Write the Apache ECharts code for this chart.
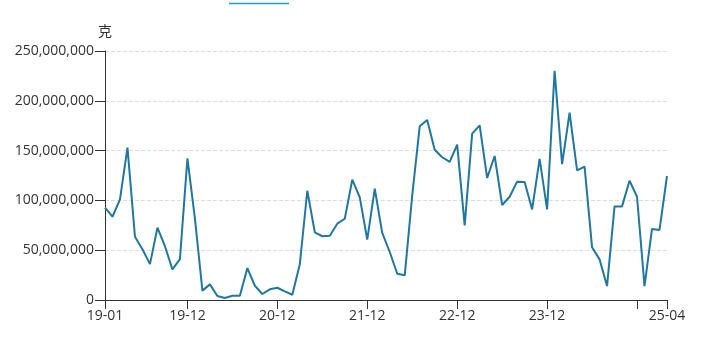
<!DOCTYPE html>
<html>
<head>
<meta charset="utf-8">
<script src="https://cdn.jsdelivr.net/npm/echarts@6/dist/echarts.min.js"></script>
<style>
html, body { margin: 0; padding: 0; background: #fff; }
#main { width: 707px; height: 353px; }
</style>
</head>
<body>
<div id="main"></div>
<script>
// 月份 19-01 .. 25-04
var months = [];
for (var y = 19; y <= 25; y++) {
    for (var m = 1; m <= 12; m++) {
        if (y == 25 && m > 4) break;
        months.push(y + '-' + (m < 10 ? '0' + m : m));
    }
}

// 重量（克）
var weights = [
    92.7e6, 83.6e6, 101e6, 153e6, 63.6e6, 51e6, 36e6, 72.6e6, 54e6, 30.8e6, 41e6, 142.3e6,
    82e6, 9.4e6, 15.7e6, 4e6, 2e6, 4.3e6, 4.3e6, 32e6, 14.3e6, 6e6, 10.7e6, 12.3e6,
    8.7e6, 5.3e6, 36e6, 109.7e6, 68e6, 64e6, 64.6e6, 76.6e6, 81.6e6, 120.8e6, 103e6, 60.6e6,
    111.8e6, 67.3e6, 48.2e6, 26.4e6, 24.8e6, 105e6, 174.4e6, 180.7e6, 150.9e6, 143.3e6, 138.6e6, 156e6,
    75e6, 167e6, 175.4e6, 122.5e6, 144.6e6, 95.4e6, 103.7e6, 118.8e6, 118.5e6, 91e6, 141.6e6, 91e6,
    230.2e6, 136.5e6, 188e6, 130.2e6, 133.9e6, 52.9e6, 40.8e6, 14e6, 94e6, 94e6, 119.8e6, 103.7e6,
    14e6, 71.3e6, 70.3e6, 124.5e6
];

var yTicks = [0, 250000000, 50000000];

var last = months.length - 1;
function showTick(i) {
    return i === 0 || i === last || i % 12 === 11;
}
function showLabel(i) {
    return i === 0 || i === last || (i % 12 === 11 && last - i > 6);
}

var chart = echarts.init(document.getElementById('main'));
chart.setOption({
    animation: false,
    textStyle: { fontFamily: 'Open Sans, Noto Sans, sans-serif' },
    grid: { left: 105, right: 40, top: 51, bottom: 53 },
    graphic: [{
        type: 'line',
        shape: { x1: 229, y1: 3.5, x2: 289, y2: 3.5 },
        style: { stroke: '#1aa3c6', lineWidth: 1.5 }
    }],
    xAxis: {
        type: 'category',
        data: months,
        boundaryGap: false,
        axisLine: { lineStyle: { color: '#333' } },
        axisTick: { interval: function (i) { return showTick(i); }, length: 9, lineStyle: { color: '#333' } },
        axisLabel: {
            interval: function (i) { return showLabel(i); },
            color: '#333', fontSize: 14, margin: 9
        },
        splitLine: { show: false }
    },
    yAxis: {
        type: 'value',
        name: '克',
        nameGap: 13,
        nameTextStyle: { color: '#333', fontSize: 14, align: 'center', fontFamily: 'Noto Sans CJK SC' },
        min: yTicks[0],
        max: yTicks[1],
        interval: yTicks[2],
        axisLine: { show: true, lineStyle: { color: '#333' } },
        axisTick: { show: true, length: 10, lineStyle: { color: '#333' } },
        axisLabel: {
            color: '#333', fontSize: 14, margin: 11,
            formatter: function (v) { return v.toLocaleString('en-US'); }
        },
        splitLine: { lineStyle: { color: '#ddd', type: 'dashed' } }
    },
    series: [{
        type: 'line',
        data: weights,
        showSymbol: false,
        symbol: 'none',
        lineStyle: { color: '#21779f', width: 2 }
    }]
});
</script>
</body>
</html>
